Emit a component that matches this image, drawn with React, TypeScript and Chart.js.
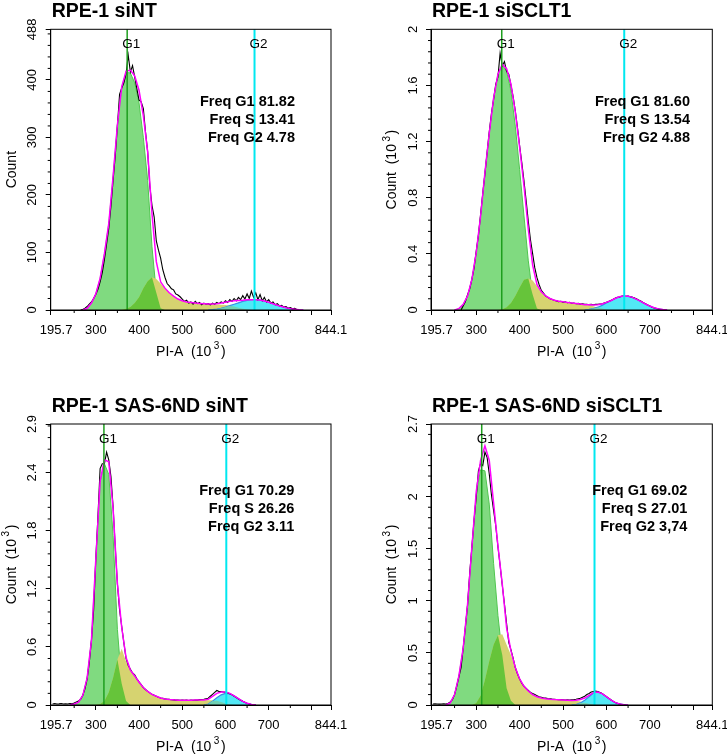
import { useEffect, useRef } from "react";
import { Chart, registerables } from "chart.js";

Chart.register(...registerables);

const FONT = '"Liberation Sans", Arial, Helvetica, sans-serif';
const PAGE_W = 727;
const PAGE_H = 756;

// PI-A axis (x 10^3), shared by the four panels
const X_MIN = 195.7;
const X_MAX = 844.1;
const X_TICKS = [195.7, 300, 400, 500, 600, 700, 800, 844.1];
// leading spaces nudge the first label inside the frame, as in the source
const X_TICK_LABELS = ["   195.7", "300", "400", "500", "600", "700", "", "844.1"];
const X_MINOR = [250, 350, 450, 550, 650, 750];

const TITLES = ["RPE-1 siNT", "RPE-1 siSCLT1", "RPE-1 SAS-6ND siNT", "RPE-1 SAS-6ND siSCLT1"];
const Y_MAX = [488, 2, 2.9, 2.7];
const Y_TICKS = [
  [0, 100, 200, 300, 400, 488],
  [0, 0.4, 0.8, 1.2, 1.6, 2],
  [0, 0.6, 1.2, 1.8, 2.4, 2.9],
  [0, 0.5, 1, 1.5, 2, 2.7],
];
const Y_MINOR_STEP = [20, 0.08, 0.12, 0.1];
const Y_THOUSANDS = [false, true, true, true];

// gate positions (PI-A)
const G1_MEAN = [372.6, 358.8, 318.8, 312.6];
const G2_MEAN = [667.2, 641.1, 601.9, 572.6];

const FREQ_G1 = ["81.82", "81.60", "70.29", "69.02"];
const FREQ_S = ["13.41", "13.54", "26.26", "27.01"];
const FREQ_G2 = ["4.78", "4.88", "3.11", "3,74"];

// raw histograms, one value every 5 PI-A units from RAW_START
const RAW_STEP = 5;
const RAW_START = [265, 265, 200, 200];
const RAW_SINT = [
  0, 1, 3, 6, 10, 14, 20, 27, 36, 49, 65, 88, 115, 142, 180, 225, 268, 320, 375, 386,
  395, 410, 443, 414, 425, 405, 385, 365, 362, 350, 310, 275, 215, 182, 162, 120, 104, 90, 70, 57,
  46, 42, 37, 35, 28, 26, 23, 19, 15, 17, 12, 14, 10, 15, 11, 13, 9, 12, 10, 11,
  9, 12, 10, 13, 11, 14, 12, 16, 13, 18, 15, 20, 16, 22, 18, 25, 19, 28, 20, 33,
  22, 30, 18, 27, 16, 22, 14, 18, 12, 14, 9, 11, 7, 8, 5, 6, 3, 4, 2, 3, 1, 0,
];
const RAW_SISCLT1 = [
  0, 0.03, 0.06, 0.11, 0.15, 0.22, 0.3, 0.42, 0.53, 0.68, 0.83, 0.97, 1.12, 1.27, 1.4, 1.5,
  1.61, 1.66, 1.83, 1.74, 1.77, 1.7, 1.68, 1.6, 1.52, 1.42, 1.3, 1.17, 1.05, 0.92, 0.78, 0.63,
  0.5, 0.4, 0.3, 0.23, 0.18, 0.14, 0.12, 0.1, 0.09, 0.08, 0.075, 0.07, 0.065, 0.06, 0.062, 0.055,
  0.058, 0.052, 0.055, 0.048, 0.05, 0.045, 0.047, 0.042, 0.044, 0.04, 0.041, 0.038, 0.04, 0.037, 0.04, 0.04,
  0.043, 0.045, 0.05, 0.055, 0.06, 0.068, 0.075, 0.083, 0.09, 0.093, 0.098, 0.1, 0.096, 0.1, 0.094, 0.09,
  0.085, 0.078, 0.07, 0.062, 0.052, 0.044, 0.036, 0.028, 0.02, 0.014, 0.01, 0.006, 0.003, 0,
];
const RAW_SAS_SINT = [
  0.01, 0.015, 0.01, 0.012, 0.015, 0.01, 0.012, 0.01, 0.015, 0.012, 0.02, 0.03, 0.04, 0.06, 0.1, 0.17,
  0.27, 0.44, 0.67, 0.98, 1.5, 1.95, 2.44, 2.49, 2.49, 2.61, 2.53, 2.36, 2.05, 1.63, 1.25, 0.98,
  0.81, 0.64, 0.48, 0.41, 0.37, 0.33, 0.31, 0.27, 0.24, 0.21, 0.18, 0.16, 0.14, 0.125, 0.11, 0.1,
  0.09, 0.08, 0.072, 0.068, 0.063, 0.06, 0.058, 0.054, 0.053, 0.05, 0.052, 0.049, 0.051, 0.048, 0.05, 0.047,
  0.05, 0.048, 0.052, 0.05, 0.055, 0.056, 0.06, 0.065, 0.07, 0.09, 0.11, 0.13, 0.15, 0.14, 0.14, 0.135,
  0.13, 0.125, 0.115, 0.105, 0.09, 0.078, 0.062, 0.05, 0.038, 0.026, 0.017, 0.01, 0.005, 0.002, 0,
];
const RAW_SAS_SISCLT1 = [
  0.01, 0.012, 0.01, 0.008, 0.01, 0.012, 0.01, 0.015, 0.03, 0.05, 0.1, 0.18, 0.27, 0.36, 0.55, 0.75,
  0.96, 1.27, 1.52, 1.78, 2.0, 2.25, 2.32, 2.3, 2.43, 2.38, 2.22, 2.02, 1.87, 1.72, 1.52, 1.34,
  1.15, 0.97, 0.78, 0.6, 0.53, 0.45, 0.36, 0.3, 0.25, 0.21, 0.18, 0.16, 0.14, 0.12, 0.11, 0.1,
  0.09, 0.08, 0.075, 0.07, 0.066, 0.062, 0.06, 0.057, 0.055, 0.053, 0.05, 0.052, 0.05, 0.048, 0.05, 0.047,
  0.05, 0.052, 0.055, 0.06, 0.065, 0.075, 0.085, 0.1, 0.11, 0.125, 0.13, 0.135, 0.13, 0.12, 0.11, 0.095,
  0.08, 0.065, 0.05, 0.037, 0.025, 0.016, 0.01, 0.005, 0.002, 0,
];
const RAW_COUNTS = [RAW_SINT, RAW_SISCLT1, RAW_SAS_SINT, RAW_SAS_SISCLT1];

// fitted cell-cycle components, [PI-A, count]
type Pair = [number, number];
const G1_SINT: Pair[] = [[270, 0], [280, 3], [290, 12], [300, 28], [310, 55], [320, 98], [330, 150], [340, 232], [350, 322], [360, 388], [370, 413], [380, 412], [390, 395], [400, 360], [410, 300], [420, 225], [430, 110], [440, 30], [450, 3], [460, 0]];
const S_SINT: Pair[] = [[360, 0], [370, 2], [380, 5], [390, 12], [400, 22], [410, 38], [420, 50], [430, 57], [440, 54], [450, 46], [460, 38], [470, 30], [480, 24], [490, 19], [500, 16], [510, 14], [520, 13], [530, 12], [540, 11.5], [550, 11], [560, 10.5], [570, 10], [580, 9.5], [590, 9], [600, 8.5], [610, 7.5], [620, 6], [630, 4], [640, 2], [650, 1], [660, 0]];
const G2_SINT: Pair[] = [[560, 0], [570, 0.5], [580, 1.5], [590, 3], [600, 5], [610, 7.5], [620, 10], [630, 12.5], [640, 15], [650, 16.8], [660, 17.8], [670, 18], [680, 17.3], [690, 15.7], [700, 13.5], [710, 11], [720, 8.3], [730, 6], [740, 4], [750, 2.4], [760, 1.2], [770, 0.4], [780, 0]];

const G1_SISCLT1: Pair[] = [[250, 0], [260, 0.01], [270, 0.04], [280, 0.1], [290, 0.22], [300, 0.41], [310, 0.67], [320, 0.98], [330, 1.26], [340, 1.51], [350, 1.68], [360, 1.745], [370, 1.7], [380, 1.56], [390, 1.31], [400, 1.0], [410, 0.67], [420, 0.35], [430, 0.11], [440, 0.01], [450, 0]];
const S_SISCLT1: Pair[] = [[350, 0], [360, 0.005], [370, 0.02], [380, 0.05], [390, 0.1], [400, 0.16], [410, 0.215], [420, 0.225], [430, 0.21], [440, 0.17], [450, 0.13], [460, 0.1], [470, 0.082], [480, 0.07], [490, 0.063], [500, 0.058], [510, 0.054], [520, 0.05], [530, 0.046], [540, 0.042], [550, 0.038], [560, 0.033], [570, 0.026], [580, 0.018], [590, 0.01], [600, 0.004], [610, 0]];
const G2_SISCLT1: Pair[] = [[550, 0], [560, 0.004], [570, 0.01], [580, 0.02], [590, 0.033], [600, 0.05], [610, 0.066], [620, 0.082], [630, 0.094], [640, 0.1], [650, 0.098], [660, 0.09], [670, 0.076], [680, 0.06], [690, 0.043], [700, 0.028], [710, 0.016], [720, 0.008], [730, 0.003], [740, 0]];

const G1_SAS_SINT: Pair[] = [[240, 0], [250, 0.01], [260, 0.03], [270, 0.1], [280, 0.28], [290, 0.67], [300, 1.5], [310, 2.3], [320, 2.49], [330, 2.38], [340, 1.75], [350, 0.78], [360, 0.22], [370, 0.04], [380, 0]];
const S_SAS_SINT: Pair[] = [[300, 0], [310, 0.01], [320, 0.04], [330, 0.13], [340, 0.28], [350, 0.47], [360, 0.58], [370, 0.45], [380, 0.36], [390, 0.3], [400, 0.235], [410, 0.18], [420, 0.14], [430, 0.11], [440, 0.09], [450, 0.072], [460, 0.063], [470, 0.057], [480, 0.053], [490, 0.05], [500, 0.049], [510, 0.049], [520, 0.05], [530, 0.051], [540, 0.052], [550, 0.052], [560, 0.05], [570, 0.05], [580, 0.045], [590, 0.03], [600, 0.015], [610, 0.005], [620, 0]];
const G2_SAS_SINT: Pair[] = [[550, 0], [560, 0.01], [570, 0.04], [580, 0.075], [590, 0.105], [600, 0.12], [610, 0.115], [620, 0.095], [630, 0.065], [640, 0.038], [650, 0.018], [660, 0.006], [670, 0]];

const G1_SAS_SISCLT1: Pair[] = [[230, 0], [240, 0.02], [250, 0.1], [260, 0.28], [270, 0.55], [280, 0.97], [290, 1.52], [300, 2.03], [310, 2.26], [320, 2.25], [330, 1.93], [340, 1.36], [350, 0.86], [360, 0.48], [370, 0.16], [380, 0.04], [390, 0]];
const S_SAS_SISCLT1: Pair[] = [[290, 0], [300, 0.02], [310, 0.09], [320, 0.24], [330, 0.42], [340, 0.58], [350, 0.67], [360, 0.68], [370, 0.58], [380, 0.48], [390, 0.36], [400, 0.25], [410, 0.18], [420, 0.135], [430, 0.1], [440, 0.08], [450, 0.068], [460, 0.06], [470, 0.055], [480, 0.052], [490, 0.05], [500, 0.048], [510, 0.046], [520, 0.044], [530, 0.04], [540, 0.033], [550, 0.022], [560, 0.012], [570, 0.004], [580, 0]];
const G2_SAS_SISCLT1: Pair[] = [[520, 0], [530, 0.005], [540, 0.02], [550, 0.045], [560, 0.08], [570, 0.115], [580, 0.125], [590, 0.11], [600, 0.08], [610, 0.05], [620, 0.025], [630, 0.01], [640, 0.003], [650, 0]];

const G1_FITS = [G1_SINT, G1_SISCLT1, G1_SAS_SINT, G1_SAS_SISCLT1];
const S_FITS = [S_SINT, S_SISCLT1, S_SAS_SINT, S_SAS_SISCLT1];
const G2_FITS = [G2_SINT, G2_SISCLT1, G2_SAS_SINT, G2_SAS_SISCLT1];

// grid on which the fitted components are given
const FIT_X = Array.from({ length: 59 }, (_, i) => 200 + i * 10);

// page layout of each plot frame
const PLOT_BOXES = [
  { left: 50.7, top: 29.3, right: 331, bottom: 310 },
  { left: 431, top: 29.3, right: 712.3, bottom: 310 },
  { left: 50.7, top: 424, right: 331, bottom: 705 },
  { left: 431, top: 424, right: 712.3, bottom: 705 },
];
const FREQ_RIGHT = [295, 690, 294.3, 687.3];
const FREQ_BASE = [106, 106, 494.5, 494.5];
const Y_AXIS_W = 20;
const X_AXIS_H = 40;

const at = (pairs: Pair[], x: number) => {
  const hit = pairs.find((p) => Math.abs(p[0] - x) < 1e-6);
  return hit ? hit[1] : 0;
};

const trimZeros = (pts: { x: number; y: number }[]) => {
  let first = -1;
  let last = -1;
  pts.forEach((p, i) => {
    if (p.y > 0) {
      if (first < 0) first = i;
      last = i;
    }
  });
  if (first < 0) return [];
  return pts.slice(Math.max(0, first - 1), Math.min(pts.length, last + 2));
};

const toPoints = (pairs: Pair[]) => pairs.map(([x, y]) => ({ x, y }));

function drawUnitLabel(ctx: CanvasRenderingContext2D, name: string, thousands: boolean, cx: number, cy: number) {
  const main = `14px ${FONT}`;
  const sup = `10px ${FONT}`;
  ctx.textBaseline = "middle";
  if (!thousands) {
    ctx.font = main;
    ctx.textAlign = "center";
    ctx.fillText(name, cx, cy);
    return;
  }
  ctx.textAlign = "left";
  const head = `${name}  (10`;
  ctx.font = main;
  const wHead = ctx.measureText(head).width;
  const wTail = ctx.measureText(")").width;
  ctx.font = sup;
  const wSup = ctx.measureText("3").width;
  const gap = 2.5;
  let x = cx - (wHead + gap + wSup + 1.5 + wTail) / 2;
  ctx.font = main;
  ctx.fillText(head, x, cy);
  x += wHead + gap;
  ctx.font = sup;
  ctx.fillText("3", x, cy - 5);
  x += wSup + 1.5;
  ctx.font = main;
  ctx.fillText(")", x, cy);
}

function HistogramPanel({ index }: { index: number }) {
  const canvasRef = useRef<HTMLCanvasElement | null>(null);

  useEffect(() => {
    if (!canvasRef.current) return;
    const box = PLOT_BOXES[index];
    const g1 = G1_FITS[index];
    const s = S_FITS[index];
    const g2 = G2_FITS[index];
    const yMax = Y_MAX[index];

    const raw = RAW_COUNTS[index].map((y, i) => ({ x: RAW_START[index] + i * RAW_STEP, y }));
    const model = trimZeros(FIT_X.map((x) => ({ x, y: at(g1, x) + at(s, x) + at(g2, x) })));
    const g1s = trimZeros(FIT_X.map((x) => ({ x, y: Math.min(at(g1, x), at(s, x)) })));
    const sg2 = trimZeros(FIT_X.map((x) => ({ x, y: Math.min(at(s, x), at(g2, x)) })));

    const area = (data: { x: number; y: number }[], fill: string, edge: string, width: number) => ({
      data,
      backgroundColor: fill,
      borderColor: edge,
      borderWidth: width,
      fill: "origin",
      pointRadius: 0,
      tension: 0,
    });
    const line = (data: { x: number; y: number }[], color: string, width: number) => ({
      data,
      borderColor: color,
      borderWidth: width,
      fill: false,
      pointRadius: 0,
      tension: 0,
    });

    const decor = {
      id: "panelDecor",
      afterDraw(chart: Chart) {
        const { ctx, chartArea: a } = chart;
        const xs = chart.scales.x;
        const ys = chart.scales.y;
        ctx.save();
        ctx.strokeStyle = "#000";
        ctx.lineWidth = 1;
        ctx.strokeRect(a.left, a.top, a.right - a.left, a.bottom - a.top);

        // minor ticks
        ctx.beginPath();
        X_MINOR.forEach((v) => {
          const px = xs.getPixelForValue(v);
          ctx.moveTo(px, a.bottom);
          ctx.lineTo(px, a.bottom + 3);
        });
        const step = Y_MINOR_STEP[index];
        for (let k = 1; k * step < yMax - 1e-9; k++) {
          if (k % 5 === 0) continue;
          const py = ys.getPixelForValue(k * step);
          ctx.moveTo(a.left, py);
          ctx.lineTo(a.left - 3, py);
        }
        ctx.stroke();

        ctx.fillStyle = "#000";
        // rotated y tick labels
        ctx.font = `13px ${FONT}`;
        ctx.textAlign = "center";
        ctx.textBaseline = "middle";
        Y_TICKS[index].forEach((v) => {
          ctx.save();
          ctx.translate(a.left - 18, ys.getPixelForValue(v));
          ctx.rotate(-Math.PI / 2);
          ctx.fillText(String(v), 0, 0);
          ctx.restore();
        });

        // axis titles
        ctx.save();
        ctx.translate(a.left - 39, (a.top + a.bottom) / 2);
        ctx.rotate(-Math.PI / 2);
        drawUnitLabel(ctx, "Count", Y_THOUSANDS[index], 0, 0);
        ctx.restore();
        drawUnitLabel(ctx, "PI-A", true, (a.left + a.right) / 2, a.bottom + 41.7);

        // panel title
        ctx.font = `bold 19.5px ${FONT}`;
        ctx.textAlign = "left";
        ctx.textBaseline = "alphabetic";
        ctx.fillText(TITLES[index], a.left + 1, a.top - 12.5);

        // gate labels
        ctx.font = `13.5px ${FONT}`;
        ctx.textAlign = "center";
        ctx.fillText("G1", xs.getPixelForValue(G1_MEAN[index]) + 4, a.top + 19);
        ctx.fillText("G2", xs.getPixelForValue(G2_MEAN[index]) + 4, a.top + 19);

        // frequencies
        ctx.font = `bold 14.5px ${FONT}`;
        ctx.textAlign = "right";
        const lines = [
          `Freq G1 ${FREQ_G1[index]}`,
          `Freq S ${FREQ_S[index]}`,
          `Freq G2 ${FREQ_G2[index]}`,
        ];
        lines.forEach((t, k) => ctx.fillText(t, FREQ_RIGHT[index], FREQ_BASE[index] + k * 18));
        ctx.restore();
      },
    };

    const chart = new Chart(canvasRef.current, {
      type: "line",
      data: {
        datasets: [
          line([{ x: G2_MEAN[index], y: 0 }, { x: G2_MEAN[index], y: yMax }], "rgb(0, 232, 240)", 2),
          line([{ x: G1_MEAN[index], y: 0 }, { x: G1_MEAN[index], y: yMax }], "rgb(30, 158, 30)", 1.5),
          line(model, "#ff00ff", 1.5),
          line(raw, "#000000", 1.1),
          area(sg2, "rgb(112, 208, 178)", "rgba(0,0,0,0)", 0),
          area(toPoints(g2), "rgb(82, 232, 245)", "rgb(58, 140, 228)", 1.2),
          area(g1s, "rgb(102, 196, 58)", "rgba(0,0,0,0)", 0),
          area(toPoints(s), "rgb(214, 211, 112)", "rgba(0,0,0,0)", 0),
          area(toPoints(g1), "rgb(128, 218, 128)", "rgb(80, 198, 80)", 1),
        ],
      },
      options: {
        responsive: false,
        animation: false,
        events: [],
        layout: {
          autoPadding: false,
          padding: {
            left: box.left - Y_AXIS_W,
            top: box.top,
            right: PAGE_W - box.right,
            bottom: PAGE_H - box.bottom - X_AXIS_H,
          },
        },
        plugins: {
          legend: { display: false },
          tooltip: { enabled: false },
          title: { display: false },
        },
        scales: {
          x: {
            type: "linear",
            position: "bottom",
            min: X_MIN,
            max: X_MAX,
            afterBuildTicks: (scale: any) => {
              scale.ticks = X_TICKS.map((value) => ({ value }));
            },
            afterFit: (scale: any) => {
              scale.height = X_AXIS_H;
              scale.paddingLeft = 0;
              scale.paddingRight = 0;
            },
            ticks: {
              autoSkip: false,
              maxRotation: 0,
              minRotation: 0,
              padding: 8,
              color: "#000",
              font: { family: FONT, size: 13 },
              callback: (_v: any, i: number) => X_TICK_LABELS[i],
            },
            grid: { drawOnChartArea: false, drawTicks: true, tickLength: 5, color: "#000", tickColor: "#000" },
            border: { display: true, color: "#000", width: 1 },
          },
          y: {
            type: "linear",
            min: 0,
            max: yMax,
            afterBuildTicks: (scale: any) => {
              scale.ticks = Y_TICKS[index].map((value) => ({ value }));
            },
            afterFit: (scale: any) => {
              scale.width = Y_AXIS_W;
              scale.paddingTop = 0;
              scale.paddingBottom = 0;
            },
            ticks: { display: false },
            grid: { drawOnChartArea: false, drawTicks: true, tickLength: 5, color: "#000", tickColor: "#000" },
            border: { display: true, color: "#000", width: 1 },
          },
        },
      },
      plugins: [decor],
    } as any);

    return () => {
      chart.destroy();
    };
  }, [index]);

  return (
    <canvas
      ref={canvasRef}
      width={PAGE_W}
      height={PAGE_H}
      style={{ position: "absolute", left: 0, top: 0 }}
    />
  );
}

export default function App() {
  return (
    <div style={{ position: "absolute", left: 0, top: 0, width: PAGE_W, height: PAGE_H, background: "#fff" }}>
      {[0, 1, 2, 3].map((i) => (
        <HistogramPanel key={i} index={i} />
      ))}
    </div>
  );
}
